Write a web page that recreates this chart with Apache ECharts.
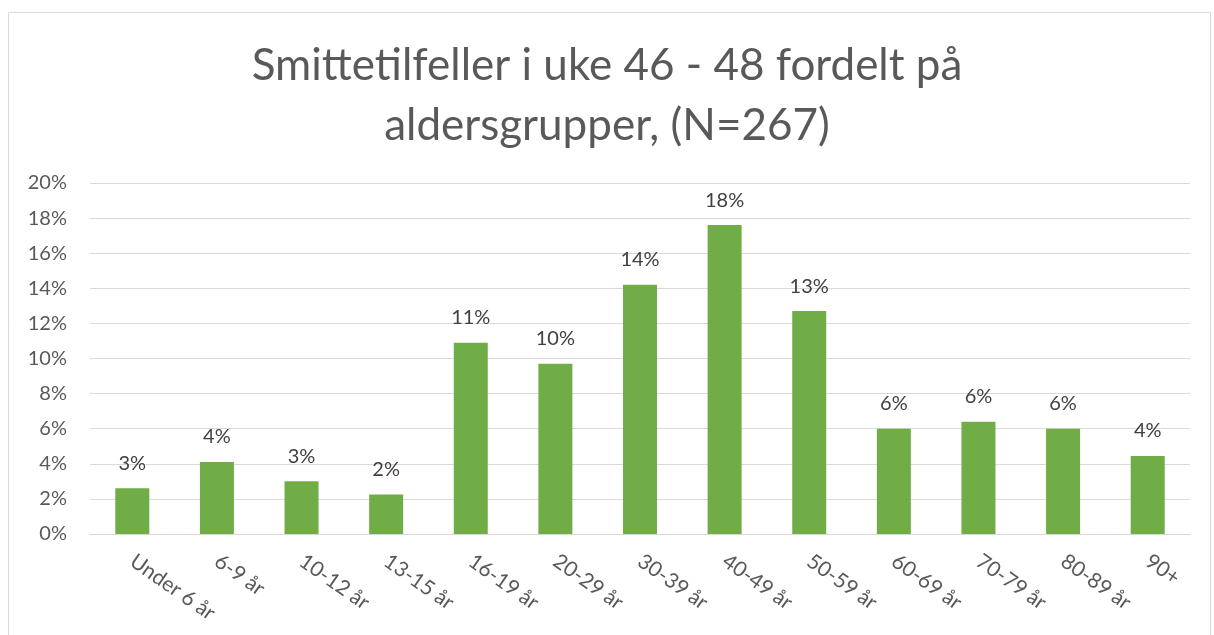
<!DOCTYPE html>
<html>
<head>
<meta charset="utf-8">
<script src="https://cdn.jsdelivr.net/npm/echarts@6/dist/echarts.min.js"></script>
<style>
  html, body { margin: 0; padding: 0; background: #fff; }
  #chart { width: 1214px; height: 635px; }
</style>
</head>
<body>
<div id="chart"></div>
<script>
// age groups and share of cases (percent)
const categories = ['Under 6 år', '6-9 år', '10-12 år', '13-15 år', '16-19 år', '20-29 år',
  '30-39 år', '40-49 år', '50-59 år', '60-69 år', '70-79 år', '80-89 år', '90+'];
const shares = [2.6, 4.1, 3.0, 2.25, 10.9, 9.7, 14.2, 17.6, 12.7, 6.0, 6.4, 6.0, 4.45];
const titleLines = ['Smittetilfeller i uke 46 - 48 fordelt på', 'aldersgrupper, (N=267)'];

const font = 'Lato, "Liberation Sans", sans-serif';
const chart = echarts.init(document.getElementById('chart'));

chart.setOption({
  animation: false,
  backgroundColor: '#fff',
  textStyle: { fontFamily: font },
  title: {
    text: titleLines.join('\n'),
    left: 'center',
    top: 31,
    textStyle: { fontFamily: font, fontSize: 44, fontWeight: 'normal', color: '#595959', lineHeight: 60 }
  },
  graphic: [{
    type: 'rect',
    shape: { x: 8.5, y: 12.5, width: 1202, height: 640 },
    style: { fill: 'none', stroke: '#d9d9d9', lineWidth: 1 },
    silent: true
  }],
  grid: { left: 90, right: 24, top: 183, bottom: 101 },
  xAxis: {
    type: 'category',
    data: categories,
    axisLine: { lineStyle: { color: '#d9d9d9', width: 1 } },
    axisTick: { show: false },
    axisLabel: {
      rotate: -35,
      interval: 0,
      margin: 25,
      fontSize: 21,
      color: '#595959',
      fontFamily: font
    }
  },
  yAxis: {
    type: 'value',
    min: 0,
    max: 20,
    interval: 2,
    axisLine: { show: false },
    axisTick: { show: false },
    splitLine: { lineStyle: { color: '#d9d9d9', width: 1 } },
    axisLabel: {
      formatter: v => v + '%',
      fontSize: 20,
      color: '#595959',
      margin: 23,
      fontFamily: font
    }
  },
  series: [{
    type: 'bar',
    data: shares,
    barWidth: 34,
    itemStyle: { color: '#70ad47' },
    label: {
      show: true,
      position: 'top',
      distance: 15,
      formatter: p => Math.round(p.value) + '%',
      fontSize: 20,
      color: '#404040',
      fontFamily: font
    }
  }]
});
</script>
</body>
</html>
